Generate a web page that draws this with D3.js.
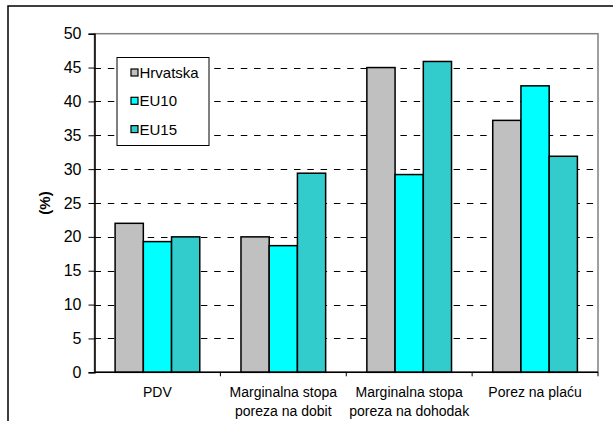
<!DOCTYPE html>
<head>
  <meta charset="utf-8">
  <script src="https://d3js.org/d3.v7.min.js"></script>
  <style>
    body { margin: 0; background: #fff; }
    text { font-family: Arial, "Liberation Sans", sans-serif; fill: #000; }
  </style>
</head>
<body>
<div id="chart"></div>
<script>
// categories (each label split into lines)
var categories = ["PDV", "Marginalna stopa poreza na dobit", "Marginalna stopa poreza na dohodak", "Porez na plaću"];
var categoryLines = [["PDV"], ["Marginalna stopa", "poreza na dobit"], ["Marginalna stopa", "poreza na dohodak"], ["Porez na plaću"]];
var seriesNames = ["Hrvatska", "EU10", "EU15"];
var seriesColors = ["#c0c0c0", "#00ffff", "#33cccc"];
// values per series, in category order
var hrvatska = [22, 20, 45, 37.2];
var eu10 = [19.3, 18.7, 29.2, 42.3];
var eu15 = [20, 29.4, 45.9, 31.9];
var yTicks = [0, 5, 10, 15, 20, 25, 30, 35, 40, 45, 50];

var seriesValues = [hrvatska, eu10, eu15];

var width = 613, height = 421;
var margin = {left: 94.5, right: 15, top: 33.7, bottom: 48.7};

var svg = d3.select("#chart").append("svg")
    .attr("width", width)
    .attr("height", height);

// outer frame (runs off the right and bottom edges)
svg.append("rect")
    .attr("x", 8).attr("y", 6)
    .attr("width", 640).attr("height", 440)
    .attr("fill", "white")
    .attr("stroke", "black")
    .attr("stroke-width", 1.5);

var x = d3.scaleBand()
    .domain(categories)
    .range([margin.left, width - margin.right])
    .padding(0);

var xs = d3.scaleBand()
    .domain(seriesNames)
    .range([0, x.bandwidth()])
    .paddingInner(0)
    .paddingOuter(0.73);

var y = d3.scaleLinear()
    .domain([0, 50])
    .range([height - margin.bottom, margin.top]);

// plot area border (top / right in grey)
svg.append("rect")
    .attr("x", margin.left).attr("y", y(50))
    .attr("width", width - margin.right - margin.left)
    .attr("height", y(0) - y(50))
    .attr("fill", "none")
    .attr("stroke", "#808080")
    .attr("stroke-width", 1.5);

// dashed gridlines
svg.append("g")
    .selectAll("line")
    .data(yTicks.filter(function(d) { return d > 0 && d < 50; }))
    .enter()
    .append("line")
    .attr("x1", margin.left)
    .attr("x2", width - margin.right)
    .attr("y1", function(d) { return Math.round(y(d)) + 0.5; })
    .attr("y2", function(d) { return Math.round(y(d)) + 0.5; })
    .attr("stroke", "black")
    .attr("stroke-dasharray", "6.5,6.8");

// bars
var data = [];
categories.forEach(function(c, i) {
    seriesNames.forEach(function(s, j) {
        data.push({cat: c, series: s, value: seriesValues[j][i], color: seriesColors[j]});
    });
});

svg.append("g")
    .selectAll("rect")
    .data(data)
    .enter()
    .append("rect")
    .attr("x", function(d) { return x(d.cat) + xs(d.series); })
    .attr("y", function(d) { return y(d.value); })
    .attr("width", xs.bandwidth())
    .attr("height", function(d) { return y(0) - y(d.value); })
    .attr("fill", function(d) { return d.color; })
    .attr("stroke", "black")
    .attr("stroke-width", 1.5);

// y axis
var yAxis = svg.append("g")
    .attr("transform", "translate(" + margin.left + ",0)")
    .call(d3.axisLeft(y).tickValues(yTicks).tickSize(6).tickPadding(7));
yAxis.selectAll("text").style("font-size", "16px");
yAxis.select(".domain").attr("stroke-width", 1.5);

// x axis with ticks on the category boundaries
svg.append("line")
    .attr("x1", margin.left).attr("x2", width - margin.right)
    .attr("y1", y(0)).attr("y2", y(0))
    .attr("stroke", "black").attr("stroke-width", 1.5);

svg.append("g")
    .selectAll("line")
    .data(categories.slice(1).concat(["end"]))
    .enter()
    .append("line")
    .attr("x1", function(d) { return d === "end" ? width - margin.right : x(d); })
    .attr("x2", function(d) { return d === "end" ? width - margin.right : x(d); })
    .attr("y1", y(0))
    .attr("y2", y(0) + 4)
    .attr("stroke", "black");

// category labels
var labels = svg.append("g")
    .selectAll("text")
    .data(categories)
    .enter()
    .append("text")
    .attr("text-anchor", "middle")
    .style("font-size", "14px");
labels.each(function(d, i) {
    var t = d3.select(this);
    categoryLines[i].forEach(function(line, k) {
        t.append("tspan")
            .attr("x", x(d) + x.bandwidth() / 2)
            .attr("y", 397 + k * 18.5)
            .text(line);
    });
});

// y axis title
svg.append("text")
    .attr("transform", "translate(50,203) rotate(-90)")
    .attr("text-anchor", "middle")
    .style("font-size", "15px")
    .style("font-weight", "bold")
    .text("(%)");

// legend
var legendG = svg.append("g");
legendG.append("rect")
    .attr("x", 117).attr("y", 57.5)
    .attr("width", 92).attr("height", 88)
    .attr("fill", "white")
    .attr("stroke", "black");

var legend = legendG.selectAll(".legend")
    .data(seriesNames)
    .enter()
    .append("g")
    .attr("class", "legend")
    .attr("transform", function(d, i) {
        return "translate(131," + (73 + i * 28.3) + ")";
    });

legend.append("rect")
    .attr("x", 0).attr("y", -4)
    .attr("width", 7).attr("height", 7)
    .attr("fill", function(d, i) { return seriesColors[i]; })
    .attr("stroke", "black")
    .attr("stroke-width", 1.2);

legend.append("text")
    .attr("x", 8.5)
    .attr("y", 5)
    .style("font-size", "15px")
    .text(function(d) { return d; });
</script>
</body>
</html>
